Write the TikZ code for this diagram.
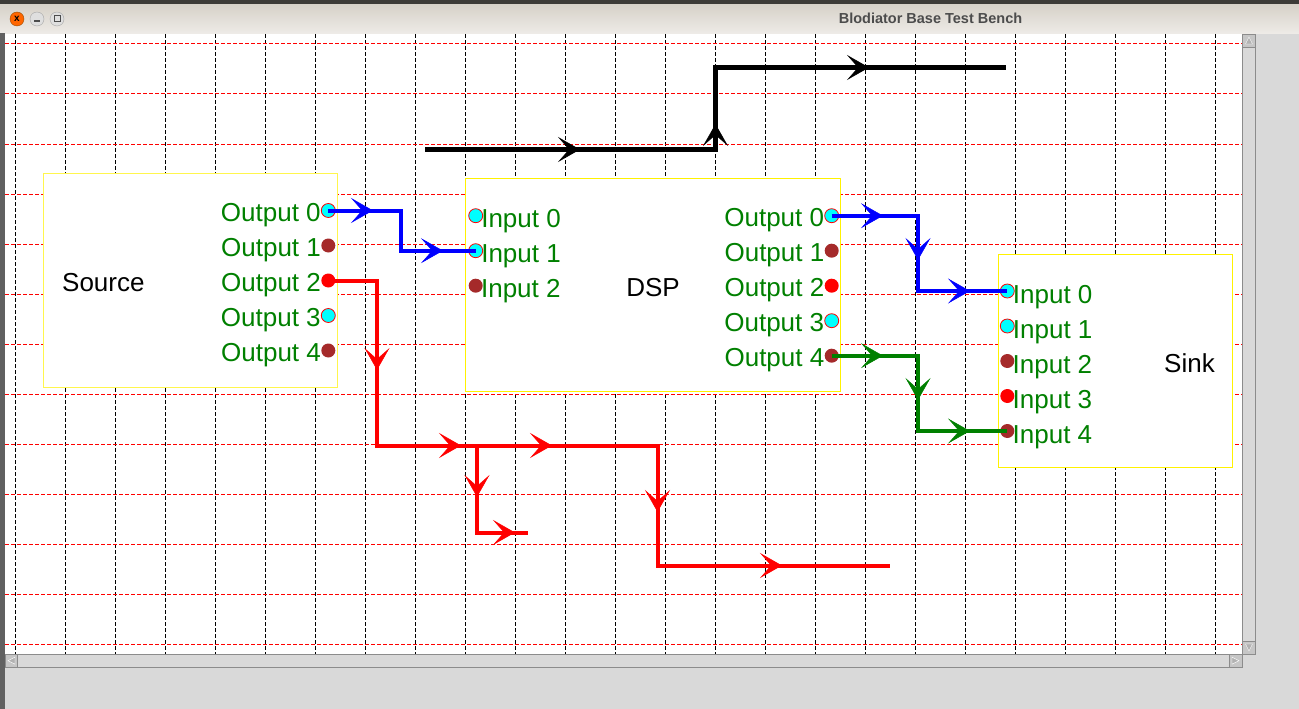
\documentclass[tikz,border=0pt]{standalone}
\usepackage{fontspec}
\setmainfont{Liberation Sans}
\usetikzlibrary{arrows.meta, decorations.markings, positioning}

\definecolor{tkgreen}{RGB}{0,128,0}
\definecolor{tkbrown}{RGB}{165,42,42}
\definecolor{tkcyan}{RGB}{0,255,255}
\definecolor{chromegray}{RGB}{217,217,217}
\definecolor{framedark}{RGB}{60,59,55}
\definecolor{titletop}{RGB}{214,209,200}
\definecolor{titlebottom}{RGB}{238,235,231}
\definecolor{scrolledge}{RGB}{140,140,140}

\pgfkeys{/pgf/decoration/tipat/.style={mark=at position #1 with {\arrow{flowtip}}}}
\tikzset{
	flowtip/.tip={Stealth[length=22pt, width=25pt, inset=11pt, line width=0.5pt]},
	tips/.style={postaction={decorate, decoration={markings, tipat/.list={#1}}}},
	wire/.style={line width=4pt},
	gridv/.style={black, line width=1pt, dash pattern=on 4pt off 2pt},
	gridh/.style={red, line width=1pt, dash pattern=on 4pt off 2pt},
	block/.style={draw=yellow, fill=white, line width=1pt, inner sep=0pt},
	blocktext/.style={font=\fontsize{26}{30}\selectfont, inner sep=0pt},
	portlabel/.style={text=tkgreen, font=\fontsize{26}{30}\selectfont, inner sep=0pt},
	port/.style={circle, inner sep=0pt, minimum size=14pt},
	cyanport/.style={port, fill=tkcyan, draw=red, line width=0.8pt},
	brownport/.style={port, fill=tkbrown},
	redport/.style={port, fill=red},
	winbtn/.style={circle, inner sep=0pt, minimum size=14pt, draw=gray!70, fill=gray!25},
	titletext/.style={text=black!70, font=\bfseries\fontsize{14.5}{16}\selectfont}
}

\begin{document}
\begin{tikzpicture}[x=1pt, y=-1pt]
  \useasboundingbox (0,0) rectangle (1299,709);
  % window frame
  \fill[chromegray] (0,0) rectangle (1299,709);
  \fill[framedark] (0,0) rectangle (1299,4.3);
  \shade[top color=titletop, bottom color=titlebottom] (0,4.3) rectangle (1299,33.3);
  \fill[black!62] (0,33.3) rectangle (4.5,709);
  \fill[white] (5,34) rectangle (1242,654);
  \node[winbtn, fill=orange!80!red, draw=orange!60!black] (closebtn) at (17,19) {\bfseries\fontsize{10}{10}\selectfont x};
  \node[winbtn] (minbtn) at (37,19) {};
  \node[winbtn] (maxbtn) at (57,19) {};
  \draw[black!70, line width=1.2pt] (minbtn.center) ++(-3,2) -- ++(6,0);
  \draw[black!70, line width=1pt] (maxbtn.center) ++(-3,-3) rectangle ++(6,6);
  \node[titletext] (title) at (930.5,18.5) {Blodiator Base Test Bench};

  % grid
  \foreach \gx in {0,...,24} \draw[gridv] ({15.5+50*\gx},34) -- ({15.5+50*\gx},654);
  \foreach \gy in {0,...,12} \draw[gridh] (5,{44+50*\gy}) -- (1242,{44+50*\gy});

  % scrollbars
  \draw[fill=chromegray, draw=scrolledge] (1242.5,34) rectangle (1255.5,654);
  \draw[fill=gray!45, draw=scrolledge] (1242.5,34) rectangle (1255.5,47);
  \draw[fill=gray!45, draw=scrolledge] (1242.5,641) rectangle (1255.5,654);
  \draw[white, fill=gray!60] (1249,37) -- (1252.5,44) -- (1245.5,44) -- cycle;
  \draw[white, fill=gray!60] (1249,651) -- (1252.5,644) -- (1245.5,644) -- cycle;
  \draw[fill=chromegray, draw=scrolledge] (5,654.5) rectangle (1242,667);
  \draw[fill=gray!45, draw=scrolledge] (5,654.5) rectangle (17.5,667);
  \draw[fill=gray!45, draw=scrolledge] (1229.5,654.5) rectangle (1242,667);
  \draw[white, fill=gray!60] (8,660.7) -- (15,657.2) -- (15,664.2) -- cycle;
  \draw[white, fill=gray!60] (1239,660.7) -- (1232,657.2) -- (1232,664.2) -- cycle;

  % blocks
  \node[block, draw=yellow!70, minimum width=294.4pt, minimum height=214.4pt] (source) at (190.5,280.5) {};
  \node[block, minimum width=375pt, minimum height=213.4pt] (dsp) at (653.2,285) {};
  \node[block, minimum width=234.4pt, minimum height=213.4pt] (sink) at (1115.5,361) {};
  \node[blocktext, anchor=base west] (sourcename) at (62,291.5) {Source};
  \node[blocktext, anchor=base] (dspname) at (653,296.5) {DSP};
  \node[blocktext, anchor=base west] (sinkname) at (1164,372) {Sink};

  % ports
  \foreach \i/\c in {0/cyanport,1/brownport,2/redport,3/cyanport,4/brownport} {
    \node[\c] (srcout\i) at (328.3,{210.5+35*\i}) {};
    \node[portlabel, anchor=base east, yshift=-10.5pt] at (srcout\i.west) {Output \i};
    \node[\c] (dspout\i) at (831.7,{215.7+35*\i}) {};
    \node[portlabel, anchor=base east, yshift=-10.5pt] at (dspout\i.west) {Output \i};
  }
  \foreach \i/\c in {0/cyanport,1/cyanport,2/brownport} {
    \node[\c] (dspin\i) at (475.7,{215.7+35*\i}) {};
    \node[portlabel, anchor=base west, xshift=-2pt, yshift=-11.3pt] at (dspin\i.east) {Input \i};
  }
  \foreach \i/\c in {0/cyanport,1/cyanport,2/brownport,3/redport,4/brownport} {
    \node[\c] (sinkin\i) at (1007.3,{291+35*\i}) {};
    \node[portlabel, anchor=base west, xshift=-2pt, yshift=-12pt] at (sinkin\i.east) {Input \i};
  }

  % connections
  \coordinate (blkstart) at (425,149.5);
  \coordinate (blkend) at (1006,67.5);
  \coordinate (redend) at (890,565.5);
  \coordinate (redtap) at (477,445.5);
  \coordinate (tapend) at (528,532.5);
  \draw[wire, blue, tips={44.7pt,154.9pt}] (srcout0.center) -- ++(72.7,0) |- (dspin1.center);
  \draw[wire, blue, tips={51.3pt,130.6pt,213.6pt}] (dspout0.center) -- ++(86.3,0) |- (sinkin0.center);
  \draw[wire, tkgreen, tips={51.3pt,130.6pt,213.6pt}] (dspout4.center) -- ++(86.3,0) |- (sinkin4.center);
  \draw[wire, red, tips={138.2pt,297.7pt,388.7pt,560.7pt,738.7pt}] (srcout2.center) -- ++(48.7,0) -- ++(0,165) -- ++(280.5,0) -- ++(0,120) -- (redend);
  \draw[wire, red, tips={51.5pt,125pt}] (redtap) |- (tapend);
  \draw[wire, black, line width=4.5pt, tips={155pt,316pt,526pt}] (blkstart) -- ++(290.5,0) |- (blkend);
\end{tikzpicture}
\end{document}
